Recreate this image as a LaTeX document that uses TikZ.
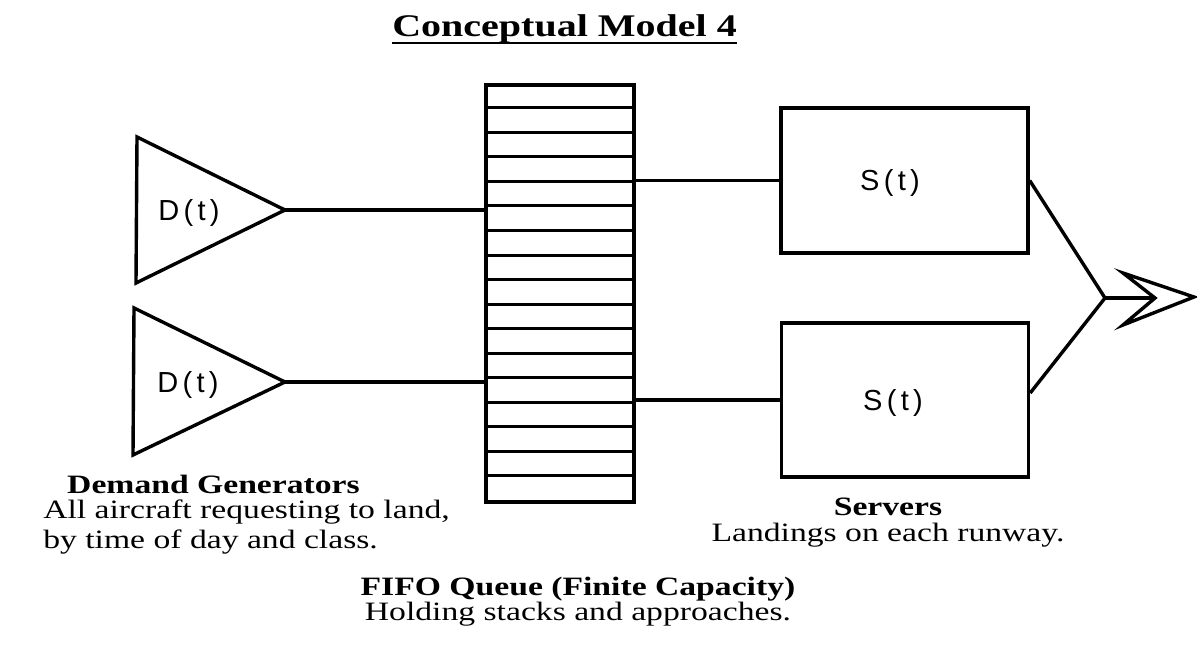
\documentclass[tikz,border=0pt]{standalone}
\usepackage{fontspec}
\setmainfont{Liberation Serif}[FakeStretch=1.27]
\newfontfamily\labelsans{Liberation Sans}[LetterSpace=15]
\begin{document}
\begin{tikzpicture}[x=1pt,y=-1pt,
  stroke/.style={line width=3.4pt},
  boxshape/.style={draw, line width=3.4pt, inner sep=0pt},
  rowline/.style={line width=3pt},
  symtext/.style={inner sep=0pt, font=\labelsans\fontsize{29}{29}\selectfont},
  headtext/.style={inner sep=0pt, font=\bfseries\fontsize{26.5}{26.5}\selectfont},
  bodytext/.style={inner sep=0pt, font=\fontsize{26.5}{26.5}\selectfont},
  titletext/.style={inner sep=0pt, font=\bfseries\fontsize{31.5}{31.5}\selectfont}]
\useasboundingbox (0,0) rectangle (1197,655);

% title
\node[titletext, anchor=base east] (title) at (737,37) {Conceptual Model 4};
\draw[line width=2.8pt] ([yshift=-6pt]title.base west) -- ([yshift=-6pt]title.base east);

% demand generators (triangles)
\coordinate (d1tip) at (285,210);
\coordinate (d2tip) at (285,382);
\draw[stroke] (137,137) -- (d1tip) -- (136,283) -- cycle;
\draw[stroke] (134,308) -- (d2tip) -- (133,455) -- cycle;
\node[symtext] (d1) at (189,213) {D(t)};
\node[symtext] (d2) at (188,385) {D(t)};

% FIFO queue with 17 slots
\node[boxshape, minimum width=148pt, minimum height=417pt] (q) at (560,293.5) {};
\foreach \k in {1,...,16}
  \draw[rowline] ([yshift=-\k*24.53pt]q.north west) -- ([yshift=-\k*24.53pt]q.north east);

% servers
\node[boxshape, minimum width=247pt, minimum height=145pt] (s1) at (904.5,180.5) {};
\node[boxshape, minimum width=247pt, minimum height=154pt] (s2) at (905,400) {};
\node[symtext] (s1t) at (890,183) {S(t)};
\node[symtext] (s2t) at (893,403) {S(t)};

% connectors
\draw[stroke] (d1tip) -- (d1tip -| q.west);
\draw[stroke] (d2tip) -- (d2tip -| q.west);
\draw[stroke] (q.east |- s1.west) -- (s1.west);
\draw[stroke] (q.east |- s2.west) -- (s2.west);
\coordinate (j) at (1105,298);
\coordinate (notch) at (1155,298);
\draw[stroke] (s1.east) -- (j) -- ([yshift=7pt]s2.east);
\draw[stroke] (j) -- (notch);
\draw[stroke] (notch) -- (1123,273) -- (1194,297) -- (1123,325) -- cycle;

% captions
\node[headtext, anchor=base east] (dgh) at (360,493) {Demand Generators};
\node[bodytext, anchor=base east] (dg1) at (450,518) {All aircraft requesting to land,};
\node[bodytext, anchor=base west] (dg2) at (dg1.base west |- 0,548) {by time of day and class.};

\node[headtext, anchor=base] (svh) at (888,515) {Servers};
\node[bodytext, anchor=base] (sv1) at (888,541) {Landings on each runway.};

\node[inner sep=0pt, align=center, anchor=north] (fq) at (578,577)
  {\fontsize{26.5}{21}\selectfont\bfseries FIFO Queue (Finite Capacity)\\
   \fontsize{26.5}{21}\selectfont Holding stacks and approaches.};
\end{tikzpicture}
\end{document}
